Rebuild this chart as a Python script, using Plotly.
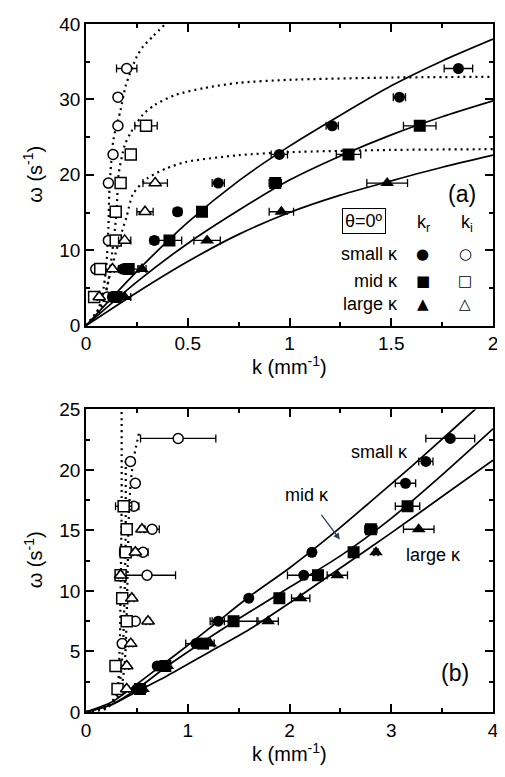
import plotly.graph_objects as go

# ---------------- Panel (a) data ----------------
# measured k_r (filled)
a_small_kr_w = [3.8, 7.5, 11.3, 15.1, 18.9, 22.7, 26.5, 30.3, 34.1]
a_small_kr_k = [0.13, 0.18, 0.336, 0.45, 0.65, 0.95, 1.21, 1.54, 1.83]
a_small_kr_e = [0.02, 0.02, 0.02, 0.02, 0.03, 0.04, 0.03, 0.03, 0.07]
a_mid_kr_w = [3.8, 7.5, 11.3, 15.1, 18.9, 22.7, 26.5]
a_mid_kr_k = [0.15, 0.21, 0.41, 0.57, 0.93, 1.29, 1.64]
a_mid_kr_e = [0.02, 0.05, 0.06, 0.02, 0.03, 0.06, 0.08]
a_large_kr_w = [3.8, 7.5, 11.3, 15.1, 18.9]
a_large_kr_k = [0.19, 0.275, 0.595, 0.96, 1.48]
a_large_kr_e = [0.03, 0.02, 0.065, 0.06, 0.1]
# measured k_i (open)
a_small_ki_w = [3.8, 7.5, 11.3, 18.9, 22.7, 26.5, 30.3, 34.1]
a_small_ki_k = [0.105, 0.048, 0.11, 0.11, 0.133, 0.157, 0.157, 0.20]
a_small_ki_e = [0.01, 0.01, 0.01, 0.01, 0.01, 0.01, 0.01, 0.05]
a_mid_ki_w = [3.8, 7.5, 11.3, 15.1, 18.9, 22.7, 26.5]
a_mid_ki_k = [0.04, 0.07, 0.146, 0.146, 0.17, 0.22, 0.295]
a_mid_ki_e = [0.01, 0.01, 0.01, 0.01, 0.01, 0.02, 0.055]
a_large_ki_w = [3.8, 7.5, 11.3, 15.1, 18.9]
a_large_ki_k = [0.065, 0.13, 0.19, 0.29, 0.34]
a_large_ki_e = [0.01, 0.01, 0.03, 0.04, 0.06]
# theory k_r (solid)
a_th_k = [0, 0.25, 0.5, 0.75, 1.0, 1.25, 1.5, 1.75, 2.0]
a_th_small_w = [0, 7.2, 13.7, 19.2, 23.8, 27.9, 31.8, 35.1, 38.0]
a_th_mid_w = [0, 5.8, 10.9, 15.3, 19.3, 22.5, 25.3, 27.7, 29.8]
a_th_large_w = [0, 4.4, 8.5, 12.1, 15.0, 17.3, 19.2, 21.0, 22.6]
# theory k_i (dotted)
a_thi_small_k = [0, 0.05, 0.08, 0.1, 0.11, 0.115, 0.135, 0.17, 0.195, 0.25, 0.28, 0.33, 0.39]
a_thi_small_w = [0, 1.5, 4.0, 8.0, 13.0, 18.0, 24.7, 28.6, 31.8, 35.7, 37.0, 38.4, 40.0]
a_thi_mid_k = [0, 0.07, 0.11, 0.13, 0.15, 0.16, 0.19, 0.22, 0.28, 0.34, 0.44, 0.58, 0.75, 1.0, 1.5, 2.0]
a_thi_mid_w = [0, 2.0, 6.0, 10.0, 15.0, 20.0, 23.9, 25.6, 28.0, 29.3, 30.6, 31.5, 32.2, 32.6, 32.9, 33.0]
a_thi_large_k = [0, 0.08, 0.12, 0.16, 0.2, 0.23, 0.3, 0.39, 0.49, 0.75, 1.0, 1.5, 2.0]
a_thi_large_w = [0, 3.0, 7.0, 11.0, 14.5, 17.4, 19.5, 20.8, 21.7, 22.6, 23.0, 23.3, 23.4]

# ---------------- Panel (b) data ----------------
b_small_kr_w = [1.9, 3.8, 5.65, 7.5, 9.4, 11.3, 13.2, 18.9, 20.7, 22.6]
b_small_kr_k = [0.5, 0.70, 1.08, 1.30, 1.60, 2.14, 2.22, 3.14, 3.34, 3.58]
b_small_kr_e = [0.03, 0.03, 0.1, 0.06, 0.03, 0.16, 0.03, 0.1, 0.07, 0.24]
b_mid_kr_w = [1.9, 3.8, 5.65, 7.5, 9.4, 11.3, 13.2, 15.1, 17.0]
b_mid_kr_k = [0.53, 0.78, 1.15, 1.45, 1.90, 2.28, 2.63, 2.80, 3.16]
b_mid_kr_e = [0.03, 0.03, 0.05, 0.23, 0.03, 0.05, 0.03, 0.06, 0.12]
b_large_kr_w = [1.9, 3.8, 5.65, 7.5, 9.4, 11.3, 13.2, 15.1]
b_large_kr_k = [0.56, 0.80, 1.22, 1.79, 2.11, 2.47, 2.85, 3.27]
b_large_kr_e = [0.03, 0.03, 0.04, 0.1, 0.09, 0.1, 0.02, 0.15]
b_small_ki_w = [5.65, 7.5, 11.3, 13.2, 15.1, 17.0, 18.9, 20.7, 22.6]
b_small_ki_k = [0.356, 0.485, 0.6, 0.56, 0.65, 0.47, 0.485, 0.437, 0.906]
b_small_ki_e = [0.02, 0.02, 0.28, 0.05, 0.07, 0.05, 0.02, 0.02, 0.37]
b_mid_ki_w = [1.9, 3.8, 7.5, 9.4, 11.3, 13.2, 15.1, 17.0]
b_mid_ki_k = [0.31, 0.29, 0.40, 0.356, 0.34, 0.39, 0.40, 0.37]
b_mid_ki_e = [0.02, 0.02, 0.02, 0.02, 0.02, 0.06, 0.03, 0.08]
b_large_ki_w = [1.9, 3.8, 5.65, 7.5, 9.4, 11.3, 13.2, 15.1]
b_large_ki_k = [0.40, 0.40, 0.44, 0.61, 0.45, 0.34, 0.485, 0.55]
b_large_ki_e = [0.02, 0.02, 0.02, 0.02, 0.02, 0.02, 0.02, 0.02]
b_th_small_k = [0, 0.25, 0.5, 0.75, 1.0, 1.3, 1.6, 2.0, 2.4, 2.8, 3.2, 3.6, 3.85]
b_th_small_w = [0, 0.8, 2.3, 3.9, 5.5, 7.5, 9.5, 11.9, 14.55, 17.4, 20.3, 23.3, 25.2]
b_th_mid_k = [0, 0.25, 0.5, 0.8, 1.15, 1.5, 2.0, 2.5, 3.0, 3.5, 4.0]
b_th_mid_w = [0, 0.6, 1.9, 3.8, 5.8, 7.7, 10.3, 12.9, 16.0, 19.6, 23.4]
b_th_large_k = [0, 0.25, 0.5, 0.8, 1.2, 1.6, 2.0, 2.5, 3.0, 3.5, 4.0]
b_th_large_w = [0, 0.6, 1.7, 3.0, 4.9, 6.8, 9.0, 11.9, 14.8, 17.8, 20.8]
b_thi_small_k = [0.0, 0.2, 0.33, 0.38, 0.40, 0.41, 0.42, 0.44, 0.47, 0.52]
b_thi_small_w = [0, 0.3, 1.5, 4.0, 8.0, 12.0, 16.0, 19.0, 21.0, 23.0]
b_thi_mid_k = [0.0, 0.2, 0.30, 0.33, 0.34, 0.35, 0.35]
b_thi_mid_w = [0, 0.4, 1.5, 5.0, 10.0, 17.0, 25.0]
b_thi_large_k = [0.0, 0.2, 0.31, 0.36, 0.38, 0.39, 0.39]
b_thi_large_w = [0, 0.4, 1.5, 5.0, 10.0, 15.0, 21.0]

FONT = "Liberation Sans, Arial, sans-serif"
fig = go.Figure()


def curve(k, w, xa, ya, dotted=False):
    fig.add_trace(go.Scatter(
        x=k, y=w, mode="lines", xaxis=xa, yaxis=ya, showlegend=False,
        line=dict(color="black", width=2.2 if dotted else 1.7,
                  dash="2px,4px" if dotted else "solid", shape="spline", smoothing=0.7),
        hoverinfo="skip"))


def points(k, w, e, symbol, xa, ya, size, hollow):
    fig.add_trace(go.Scatter(
        x=k, y=w, mode="markers", xaxis=xa, yaxis=ya, showlegend=False,
        error_x=dict(type="data", array=e, color="black", thickness=1.3, width=4),
        marker=dict(symbol=symbol, size=size, color="white" if hollow else "black",
                    line=dict(color="black", width=1.5 if hollow else 0))))


# panel a
for w in (a_th_small_w, a_th_mid_w, a_th_large_w):
    curve(a_th_k, w, "x", "y")
for k, w in [(a_thi_small_k, a_thi_small_w), (a_thi_mid_k, a_thi_mid_w), (a_thi_large_k, a_thi_large_w)]:
    curve(k, w, "x", "y", dotted=True)
points(a_small_ki_k, a_small_ki_w, a_small_ki_e, "circle", "x", "y", 10, True)
points(a_mid_ki_k, a_mid_ki_w, a_mid_ki_e, "square", "x", "y", 11, True)
points(a_large_ki_k, a_large_ki_w, a_large_ki_e, "triangle-up", "x", "y", 11, True)
points(a_small_kr_k, a_small_kr_w, a_small_kr_e, "circle", "x", "y", 11, False)
points(a_mid_kr_k, a_mid_kr_w, a_mid_kr_e, "square", "x", "y", 12, False)
points(a_large_kr_k, a_large_kr_w, a_large_kr_e, "triangle-up", "x", "y", 12, False)

# panel b
for k, w in [(b_th_small_k, b_th_small_w), (b_th_mid_k, b_th_mid_w), (b_th_large_k, b_th_large_w)]:
    curve(k, w, "x2", "y2")
for k, w in [(b_thi_small_k, b_thi_small_w), (b_thi_mid_k, b_thi_mid_w), (b_thi_large_k, b_thi_large_w)]:
    curve(k, w, "x2", "y2", dotted=True)
points(b_small_ki_k, b_small_ki_w, b_small_ki_e, "circle", "x2", "y2", 10, True)
points(b_mid_ki_k, b_mid_ki_w, b_mid_ki_e, "square", "x2", "y2", 11, True)
points(b_large_ki_k, b_large_ki_w, b_large_ki_e, "triangle-up", "x2", "y2", 11, True)
points(b_small_kr_k, b_small_kr_w, b_small_kr_e, "circle", "x2", "y2", 11, False)
points(b_mid_kr_k, b_mid_kr_w, b_mid_kr_e, "square", "x2", "y2", 12, False)
points(b_large_kr_k, b_large_kr_w, b_large_kr_e, "triangle-up", "x2", "y2", 12, False)

axis_common = dict(showline=True, linecolor="black", linewidth=1.5, mirror="allticks",
                   ticks="inside", ticklen=8, tickwidth=1.5, tickcolor="black",
                   showgrid=False, zeroline=False, ticklabeloverflow="allow",
                   tickfont=dict(family=FONT, size=19, color="black"))

# the page body has an 8px default margin, so the figure is 8px smaller and shifted
fig.update_layout(
    width=497, height=769,
    margin=dict(l=78, r=7, t=6, b=65),
    paper_bgcolor="white", plot_bgcolor="white",
    font=dict(family=FONT, color="black"),
    xaxis=dict(axis_common, domain=[0, 1], range=[0, 2], dtick=0.5, anchor="y",
               minor=dict(ticks="inside", ticklen=4, tickcolor="black", dtick=0.25)),
    yaxis=dict(axis_common, domain=[0.5616, 1], range=[0, 40], dtick=10, anchor="x",
               minor=dict(ticks="inside", ticklen=4, tickcolor="black", dtick=5)),
    xaxis2=dict(axis_common, domain=[0, 1], range=[0, 4], dtick=1, anchor="y2",
                minor=dict(ticks="inside", ticklen=4, tickcolor="black", dtick=0.5)),
    yaxis2=dict(axis_common, domain=[0, 0.4398], range=[0, 25], dtick=5, anchor="x2",
                minor=dict(ticks="inside", ticklen=4, tickcolor="black", dtick=2.5)),
)

ann = []
tf = dict(family=FONT, size=20, color="black")
# axis titles
ann.append(dict(text="k (mm<sup>-1</sup>)", xref="paper", yref="paper", x=0.5, y=0.503,
                showarrow=False, font=tf, xanchor="center", yanchor="middle"))
ann.append(dict(text="k (mm<sup>-1</sup>)", xref="paper", yref="paper", x=0.5, y=-0.059,
                showarrow=False, font=tf, xanchor="center", yanchor="middle"))
ann.append(dict(text="ω (s<sup>-1</sup>)", xref="paper", yref="paper", x=-0.13, y=0.781,
                showarrow=False, font=tf, textangle=-90, xanchor="center", yanchor="middle"))
ann.append(dict(text="ω (s<sup>-1</sup>)", xref="paper", yref="paper", x=-0.13, y=0.2206,
                showarrow=False, font=tf, textangle=-90, xanchor="center", yanchor="middle"))
# panel a labels
lf = dict(family=FONT, size=18, color="black")
sf = dict(family="DejaVu Sans", size=15, color="black")
ann.append(dict(text="(a)", xref="x", yref="y", x=1.85, y=17.4, showarrow=False,
                font=dict(family=FONT, size=23, color="black")))
ann.append(dict(text="θ=0º", xref="x", yref="y", x=1.364, y=13.9, showarrow=False, font=lf,
                bordercolor="black", borderwidth=1, borderpad=2))
ann.append(dict(text="k<sub>r</sub>", xref="x", yref="y", x=1.66, y=13.6, showarrow=False, font=lf))
ann.append(dict(text="k<sub>i</sub>", xref="x", yref="y", x=1.87, y=13.6, showarrow=False, font=lf))
rows = [("small κ", "●", "○", 9.5), ("mid κ", "■", "□", 5.9), ("large κ", "▲", "△", 2.9)]
for lab, fs, os_, wv in rows:
    ann.append(dict(text=lab, xref="x", yref="y", x=1.545, y=wv, showarrow=False, font=lf,
                    xanchor="right"))
    ann.append(dict(text=fs, xref="x", yref="y", x=1.655, y=wv, showarrow=False, font=sf))
    ann.append(dict(text=os_, xref="x", yref="y", x=1.864, y=wv, showarrow=False, font=sf))
# panel b labels
ann.append(dict(text="small κ", xref="x2", yref="y2", x=2.88, y=21.5, showarrow=False, font=lf))
ann.append(dict(text="large κ", xref="x2", yref="y2", x=3.42, y=12.95, showarrow=False, font=lf))
ann.append(dict(text="mid κ", xref="x2", yref="y2", x=2.495, y=14.25, ax=2.17, ay=17.9,
                axref="x2", ayref="y2", showarrow=True, arrowhead=2, arrowsize=1, arrowwidth=1.3,
                standoff=0, startstandoff=10, font=lf))
ann.append(dict(text="(b)", xref="x2", yref="y2", x=3.63, y=3.2, showarrow=False,
                font=dict(family=FONT, size=23, color="black")))
fig.update_layout(annotations=ann)

fig.write_html("out.html")
